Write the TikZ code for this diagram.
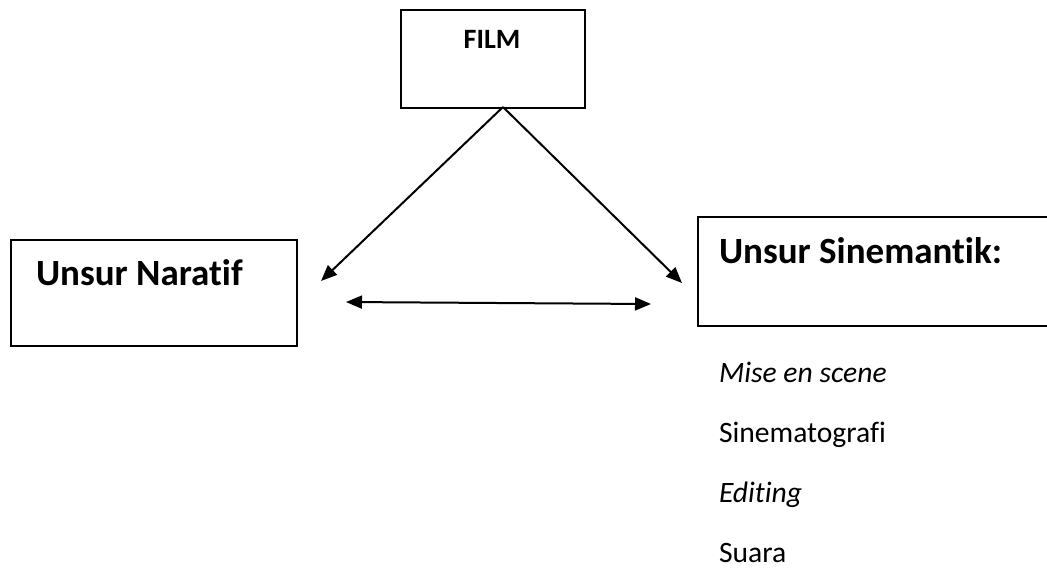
\documentclass[tikz,border=0pt]{standalone}
\usepackage{fontspec}
\setmainfont{Carlito}[Ligatures=NoCommon]
\usetikzlibrary{arrows.meta,calc}
\begin{document}
\begin{tikzpicture}[x=0.5pt,y=-0.5pt,>={Triangle[length=8pt,width=6.5pt]}, line width=1pt,
	box/.style={draw,rectangle,inner sep=0pt,anchor=north west},
	judul/.style={anchor=base west,inner sep=0pt,font=\fontsize{18.5}{22}\selectfont\bfseries},
	unsur/.style={anchor=base west,inner sep=0pt,font=\fontsize{14.8}{18}\selectfont}]
			\useasboundingbox (0,0) rectangle (1047,569);
			\node[box,minimum width=184*0.5pt,minimum height=98*0.5pt] (film) at (400,9) {};
			\node[anchor=base,inner sep=0pt,font=\fontsize{14}{17}\selectfont\bfseries] (filmtext) at (492,48) {FILM};
			\node[box,minimum width=286*0.5pt,minimum height=106*0.5pt] (naratif) at (10,239) {};
			\node[judul] (naratiftext) at (35,285) {Unsur Naratif};
			\node[box,minimum width=370*0.5pt,minimum height=109*0.5pt] (sinema) at (697,216) {};
			\node[judul] (sinematext) at (718,263) {Unsur Sinemantik:};
			\node[unsur] (mise) at (718,382) {\itshape Mise en scene};
			\node[unsur] (sinemato) at (718,442) {Sinematografi};
			\node[unsur] (editing) at (718,502) {\itshape Editing};
			\node[unsur] (suara) at (718,562) {Suara};
			\coordinate (apex) at (503,107);
			\coordinate (kiri) at (321,281);
			\coordinate (kanan) at (682,283);
			\coordinate (kiri2) at (346,302);
			\coordinate (kanan2) at (651,304);
			\draw[->] (apex)--(kiri);
			\draw[->] (apex)--(kanan);
			\draw[<->] (kiri2)--(kanan2);
\end{tikzpicture}
\end{document}
